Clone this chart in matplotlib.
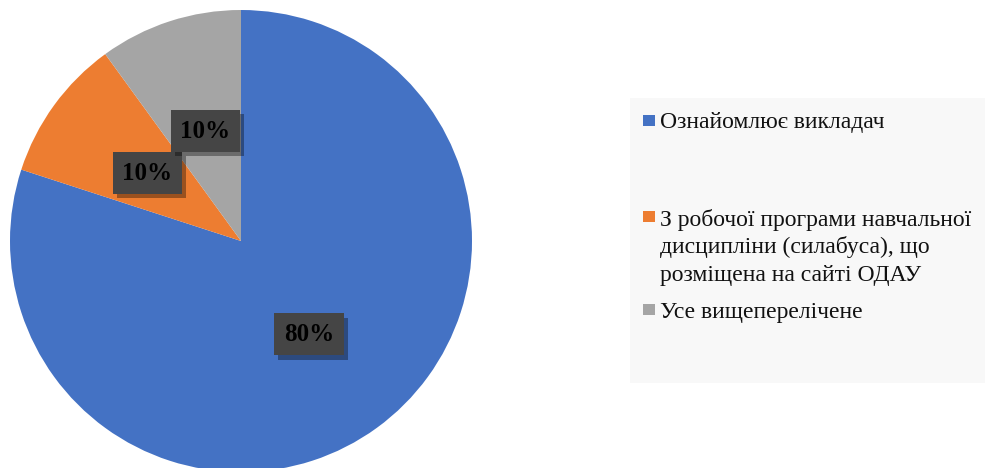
import matplotlib
matplotlib.use("Agg")
import matplotlib.pyplot as plt
from matplotlib.patches import Rectangle
import matplotlib.patheffects as pe

categories = ["Ознайомлює викладач",
              "З робочої програми навчальної\nдисципліни (силабуса), що\nрозміщена на сайті ОДАУ",
              "Усе вищеперелічене"]
values = [80, 10, 10]
colors = ["#4472C4", "#ED7D31", "#A5A5A5"]

W, H = 985, 468
fig = plt.figure(figsize=(W / 100, H / 100), dpi=100)
fig.patch.set_facecolor("white")

# pie axes: center (241, 241) px, radius 231 px
cx, cy, r = 241, 241, 231
ax = fig.add_axes([(cx - r) / W, (H - cy - r) / H, 2 * r / W, 2 * r / H])

wedges, texts, autotexts = ax.pie(values, colors=colors, startangle=90, counterclock=False,
                                  radius=1, autopct="%.0f%%", pctdistance=0.5,
                                  wedgeprops=dict(linewidth=0),
                                  textprops=dict(family="Liberation Serif", fontsize=18,
                                                 fontweight="bold", color="black"))
for t in autotexts:
    t.set_bbox(dict(boxstyle="square,pad=0.38", facecolor="#454545", edgecolor="none"))
    t.get_bbox_patch().set_path_effects([
        pe.SimplePatchShadow(offset=(3, -3), shadow_rgbFace="black", alpha=0.35),
        pe.Normal()])
ax.set_xlim(-1, 1)
ax.set_ylim(-1, 1)
ax.set_aspect("equal")
ax.axis("off")

# legend box
lx0, ly0, lx1, ly1 = 630, 98, 985, 383
fig.patches.append(Rectangle((lx0 / W, 1 - ly1 / H), (lx1 - lx0) / W, (ly1 - ly0) / H,
                             transform=fig.transFigure, facecolor="#F8F8F8",
                             edgecolor="none", zorder=0))
baselines = [128, 226, 318]
square_centers = [120.5, 216, 309]
line_step = 27.5
sq = 11
for cat, col, by, sc in zip(categories, colors, baselines, square_centers):
    fig.patches.append(Rectangle((643 / W, 1 - (sc + sq / 2) / H), 12 / W, sq / H,
                                 transform=fig.transFigure, facecolor=col,
                                 edgecolor="none", zorder=2))
    for i, line in enumerate(cat.split("\n")):
        fig.text(660 / W, 1 - (by + i * line_step) / H, line, family="Liberation Serif",
                 fontsize=17, color="#111111", va="baseline", ha="left")

fig.savefig("out.png", dpi=100, facecolor="white")
